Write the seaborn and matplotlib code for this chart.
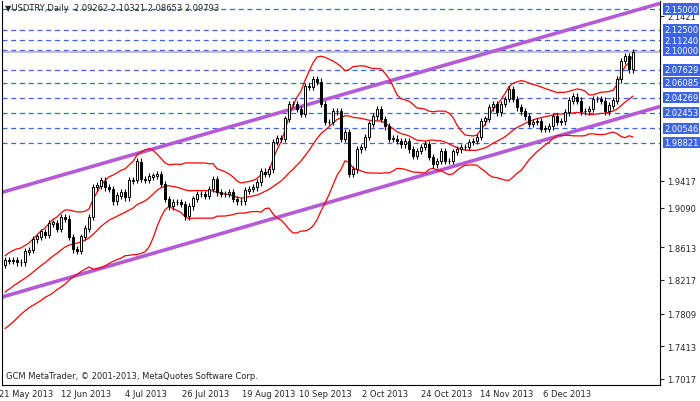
import numpy as np
import pandas as pd
import matplotlib
matplotlib.use("Agg")
import matplotlib.pyplot as plt
import matplotlib.transforms as mtrans
import seaborn as sns

warmup = [1.770,1.772,1.775,1.779,1.782,1.786,1.790,1.793,1.797,1.800,1.804,1.808,1.812,1.816,1.820,1.824,1.828,1.832,1.836,1.840]
closes = [1.845,1.845,1.846,1.843,1.843,1.856,1.858,1.871,1.874,1.880,1.876,1.890,1.891,1.884,1.898,1.896,1.874,1.859,1.857,1.874,1.884,1.898,1.934,1.936,1.942,1.934,1.932,1.917,1.924,1.928,1.922,1.942,1.943,1.965,1.944,1.943,1.947,1.948,1.950,1.938,1.920,1.911,
          1.916,1.916,1.914,1.899,1.911,1.920,1.926,1.926,1.924,1.932,1.944,1.928,1.926,1.926,1.928,1.920,1.917,1.917,1.930,1.932,1.934,1.940,1.953,1.950,1.956,1.989,1.993,1.993,2.017,2.035,2.035,2.029,2.023,2.056,2.056,2.065,2.062,2.035,2.013,2.013,2.026,2.026,1.993,
          2.001,1.950,1.956,1.980,1.983,1.995,2.011,2.020,2.029,2.017,2.008,1.993,1.993,1.990,1.986,1.990,1.980,1.972,1.978,1.983,1.986,1.971,1.962,1.966,1.978,1.966,1.966,1.977,1.980,1.983,1.983,1.989,1.990,1.995,2.014,2.017,2.031,2.035,2.025,
          2.035,2.041,2.053,2.041,2.031,2.026,2.020,2.011,2.013,2.014,2.005,2.005,2.008,2.020,2.013,2.014,2.025,2.039,2.044,2.039,2.026,2.026,2.029,2.041,2.041,2.039,2.026,2.033,2.039,2.065,2.087,2.093,2.077,2.0979]
first_open = 1.840
date_idx = [5.25, 20.25, 35.25, 50.25, 66, 80, 95, 110.5, 125.5, 140.5]
date_labels = ["21 May 2013","12 Jun 2013","4 Jul 2013","26 Jul 2013","19 Aug 2013","10 Sep 2013","2 Oct 2013","24 Oct 2013","14 Nov 2013","6 Dec 2013"]
levels = [2.15000, 2.12500, 2.11240, 2.10000, 2.07629, 2.06085, 2.04269, 2.02453, 2.00546, 1.98821]
axis_ticks = ["2.1421", "1.9417", "1.9090", "1.8613", "1.8217", "1.7809", "1.7413", "1.7017"]
upper_channel = [(-0.75, 1.928), (163.75, 2.157)]
lower_channel = [(-0.75, 1.801), (163.75, 2.032)]
header = "\u25bcUSDTRY,Daily  2.09262 2.10321 2.08653 2.09793"
footer = "GCM MetaTrader, \u00a9 2001-2013, MetaQuotes Software Corp."

sns.set_style("white")
plt.rcParams['font.family'] = ['DejaVu Sans']
FS = 6

c = np.array(closes)
o = np.concatenate([[first_open], c[:-1]])
hi = np.maximum(o, c) + 0.004
lo = np.minimum(o, c) - 0.004
idx = np.arange(len(c))
full = pd.Series(warmup + closes)
n0 = len(warmup)
mid = full.rolling(20).mean().iloc[n0:].to_numpy()
sd = full.rolling(20).std(ddof=0).iloc[n0:].to_numpy()
df = pd.DataFrame({"i": idx, "mid": mid, "up": mid + 2 * sd, "dn": mid - 2 * sd})

fig = plt.figure(figsize=(7, 4.02), dpi=100)
ax = fig.add_axes([2/700, 16/402, 658/700, 384/402])
ax.set_xlim(-0.75, 163.75)
ax.set_ylim(1.6944, 2.1599)

for lv in levels:
    ax.axhline(lv, color="#3c64e6", lw=0.9, ls=(0, (4, 3)), zorder=1)
ax.axhline(2.0979, color="#b4b4b4", lw=1.2, zorder=1)

for (x0, y0), (x1, y1) in [(upper_channel[0], upper_channel[1]), (lower_channel[0], lower_channel[1])]:
    ax.plot([x0, x1], [y0, y1], color="#b45ad7", lw=2.6, zorder=2, solid_capstyle="butt")

for col in ["mid", "up", "dn"]:
    sns.lineplot(data=df, x="i", y=col, ax=ax, color="red", lw=0.9, zorder=3)

ax.vlines(idx, lo, hi, color="black", lw=0.8, zorder=4)
bull = c >= o
ax.bar(idx[bull], (c - o)[bull] + 0.0005, bottom=o[bull], width=0.55, color="white", edgecolor="black", lw=0.7, zorder=5)
ax.bar(idx[~bull], (o - c)[~bull], bottom=c[~bull], width=0.55, color="black", edgecolor="black", lw=0.7, zorder=5)

ax.set_xlabel(""); ax.set_ylabel("")
ax.set_xticks(date_idx)
ax.set_xticklabels(date_labels, fontsize=FS)
ax.tick_params(axis="x", length=2, pad=1, direction="out")
ax.yaxis.tick_right()
ax.set_yticks([float(t) for t in axis_ticks])
ax.set_yticklabels(axis_ticks, fontsize=FS)
ax.tick_params(axis="y", length=3, pad=2, direction="out")
ax.spines["top"].set_visible(False)
for sp in ["left", "right", "bottom"]:
    ax.spines[sp].set_color("black"); ax.spines[sp].set_linewidth(0.8)

tr = mtrans.blended_transform_factory(ax.transAxes, ax.transData)
for lv in levels:
    ax.text(1.006, lv, f"{lv:.5f}", transform=tr, fontsize=FS, color="white", va="center", ha="left",
            bbox=dict(boxstyle="square,pad=0.15", fc="#3c64e6", ec="none"), clip_on=False, zorder=10)

ax.text(0.004, 0.995, header, transform=ax.transAxes, fontsize=FS, va="top", ha="left")
ax.text(0.006, 0.012, footer, transform=ax.transAxes, fontsize=FS, va="bottom", ha="left")
if ax.get_legend():
    ax.get_legend().remove()

fig.savefig("out.png", dpi=100)
